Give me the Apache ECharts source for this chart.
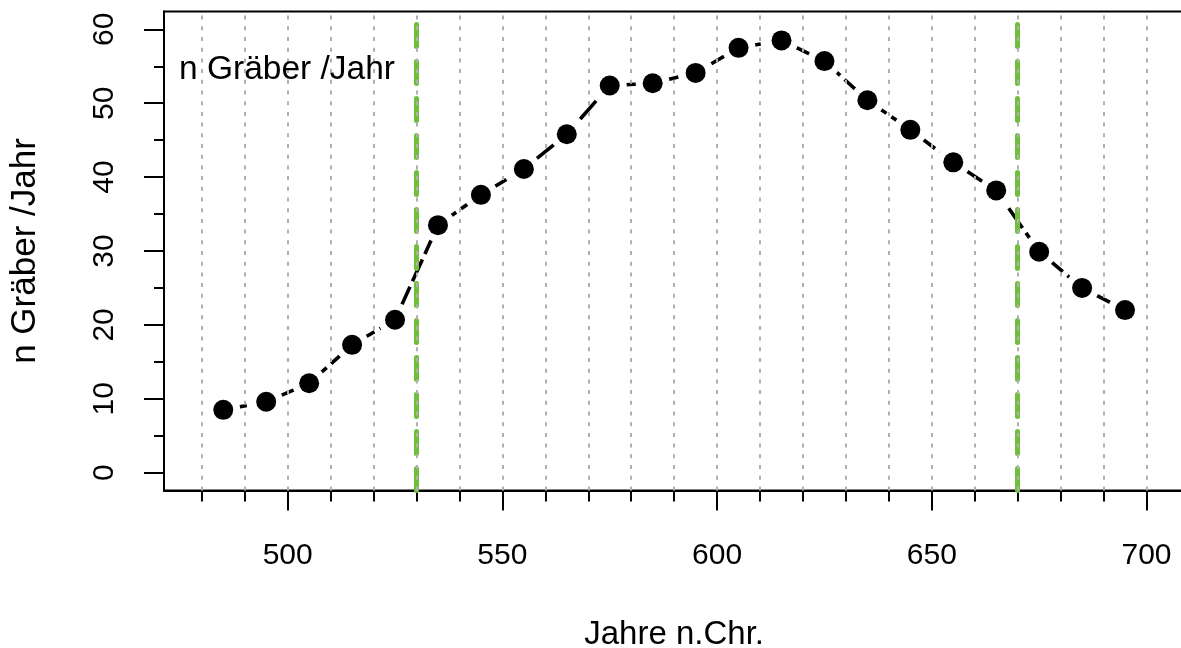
<!DOCTYPE html>
<html>
<head>
<meta charset="utf-8">
<script src="https://cdn.jsdelivr.net/npm/echarts@6/dist/echarts.min.js"></script>
<style>
html,body{margin:0;padding:0;background:#fff;}
#chart{width:1181px;height:648px;}
</style>
</head>
<body>
<div id="chart"></div>
<script>
// ---- data ----
const years = [485, 495, 505, 515, 525, 535, 545, 555, 565, 575, 585, 595, 605, 615, 625, 635, 645, 655, 665, 675, 685, 695];
const graves = [8.5, 9.6, 12.1, 17.3, 20.7, 33.5, 37.6, 41.1, 45.8, 52.4, 52.7, 54.1, 57.5, 58.5, 55.7, 50.4, 46.4, 42.0, 38.2, 29.9, 25.0, 22.0];
const xMajorTicks = [500, 550, 600, 650, 700];
const xMinorTicks = [480, 490, 500, 510, 520, 530, 540, 550, 560, 570, 580, 590, 600, 610, 620, 630, 640, 650, 660, 670, 680, 690, 700];
const yMajorTicks = [0, 10, 20, 30, 40, 50, 60];
const yMinorTicks = [5, 15, 25, 35, 45, 55];
const gridYears = [480, 490, 500, 510, 520, 530, 540, 550, 560, 570, 580, 590, 600, 610, 620, 630, 640, 650, 660, 670, 680, 690, 700];
const phaseBounds = [530, 670];
const xTitle = 'Jahre n.Chr.';
const yTitle = 'n Gräber /Jahr';
const innerLabel = 'n Gräber /Jahr';

const FONT = "'Liberation Sans', Arial, sans-serif";
const pts = years.map((y, i) => [y, graves[i]]);

const chart = echarts.init(document.getElementById('chart'), null, {renderer: 'canvas'});
chart.setOption({
  animation: false,
  backgroundColor: '#fff',
  textStyle: {fontFamily: FONT},
  grid: {left: 164, right: -3.3, top: 11.6, bottom: 157.6, show: true, borderColor: '#000', borderWidth: 2,
         backgroundColor: 'transparent', containLabel: false, outerBoundsMode: 'none'},
  xAxis: [
    {
      type: 'value', min: 471.2, max: 708.8, position: 'bottom',
      axisLine: {show: true, onZero: false, lineStyle: {color: '#000', width: 2}},
      axisTick: {show: true, customValues: xMajorTicks, length: 20, lineStyle: {color: '#000', width: 2}},
      axisLabel: {show: true, customValues: xMajorTicks, fontSize: 30, color: '#000', margin: 50, fontFamily: FONT},
      splitLine: {show: false},
      name: xTitle, nameLocation: 'middle', nameGap: 128,
      nameTextStyle: {fontSize: 33, color: '#000', fontFamily: FONT}
    },
    {
      type: 'value', min: 471.2, max: 708.8, position: 'bottom', gridIndex: 0,
      axisLine: {show: false, onZero: false},
      axisTick: {show: true, customValues: xMinorTicks, length: 11, lineStyle: {color: '#000', width: 2}},
      axisLabel: {show: false},
      splitLine: {show: false}
    }
  ],
  yAxis: [
    {
      type: 'value', min: -2.4, max: 62.4, position: 'left',
      axisLine: {show: true, onZero: false, lineStyle: {color: '#000', width: 2}},
      axisTick: {show: true, customValues: yMajorTicks, length: 20, lineStyle: {color: '#000', width: 2}},
      axisLabel: {show: true, customValues: yMajorTicks, fontSize: 30, color: '#000', rotate: 90, margin: 44, fontFamily: FONT},
      splitLine: {show: false},
      name: yTitle, nameLocation: 'middle', nameGap: 121, nameRotate: 90,
      nameTextStyle: {fontSize: 35, color: '#000', fontFamily: FONT}
    },
    {
      type: 'value', min: -2.4, max: 62.4, position: 'left', gridIndex: 0,
      axisLine: {show: false, onZero: false},
      axisTick: {show: true, customValues: yMinorTicks, length: 10, lineStyle: {color: '#000', width: 2}},
      axisLabel: {show: false},
      splitLine: {show: false}
    }
  ],
  graphic: [
    {type: 'text', left: 179, top: 53, z: 100,
     style: {text: innerLabel, font: '33.5px ' + FONT, fill: '#000'}}
  ],
  series: [
    {
      name: 'phases', type: 'scatter', data: [], symbolSize: 0, silent: true, z: 1,
      markLine: {
        silent: true, symbol: 'none', label: {show: false}, animation: false,
        lineStyle: {color: '#6fbf3c', width: 5, type: [22, 15], cap: 'round'},
        emphasis: {disabled: true},
        data: phaseBounds.map(v => ({xAxis: v}))
      }
    },
    {
      name: 'grid', type: 'scatter', data: [], symbolSize: 0, silent: true, z: 2,
      markLine: {
        silent: true, symbol: 'none', label: {show: false}, animation: false,
        lineStyle: {color: '#b0b0b0', width: 2, type: [4, 6.7]},
        emphasis: {disabled: true},
        data: gridYears.map(v => ({xAxis: v}))
      }
    },
    {
      name: 'line', type: 'line', data: pts, showSymbol: false, silent: true, z: 3,
      lineStyle: {color: '#000', width: 3.6, type: [24, 6]}
    },
    {
      name: 'halo', type: 'scatter', data: pts, symbol: 'circle', symbolSize: 34, silent: true, z: 4,
      itemStyle: {color: '#fff', opacity: 1}
    },
    {
      name: 'points', type: 'scatter', data: pts, symbol: 'circle', symbolSize: 20, silent: true, z: 5,
      itemStyle: {color: '#000', opacity: 1}
    }
  ]
});
</script>
</body>
</html>
